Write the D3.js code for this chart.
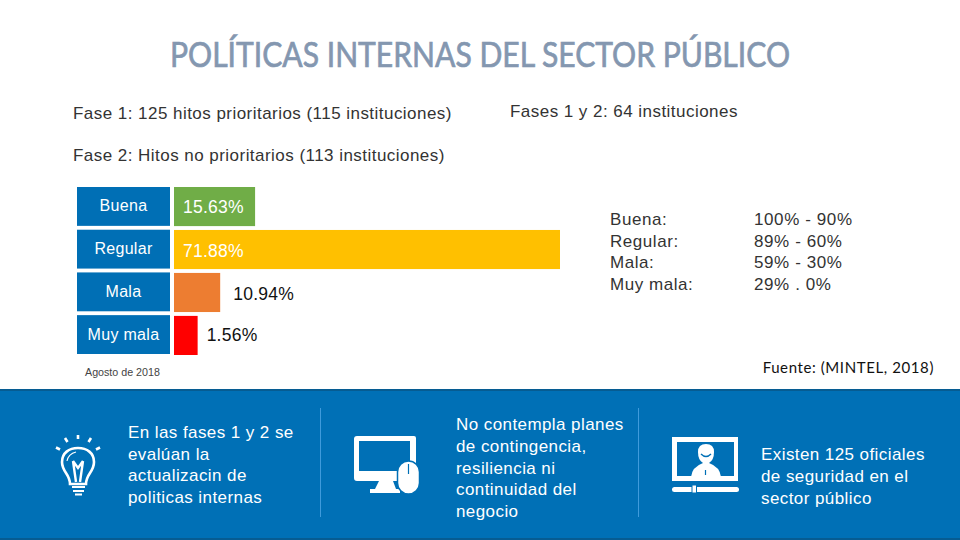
<!DOCTYPE html>
<html><head><meta charset="utf-8">
<script src="https://cdn.jsdelivr.net/npm/d3@7/dist/d3.min.js"></script>
<style>html,body{margin:0;padding:0;background:#fff}svg{display:block}text{font-family:"Liberation Sans",Arial,sans-serif}</style>
</head><body><svg id="c" width="960" height="540"></svg>
<script>
const categories = ["Buena", "Regular", "Mala", "Muy mala"];
const percentLabels = ["15.63%", "71.88%", "10.94%", "1.56%"];
// Drawn bar lengths (the source bars are not proportional to their labels)
const drawnLengths = [15.1, 71.88, 8.6, 4.4];
const barColors = ["#70ad47", "#ffc000", "#ed7d31", "#ff0000"];
const legendNames = ["Buena:", "Regular:", "Mala:", "Muy mala:"];
const legendRanges = ["100% - 90%", "89% - 60%", "59% - 30%", "29% . 0%"];
const titleText = "POLÍTICAS INTERNAS DEL SECTOR PÚBLICO";
const phaseNotes = ["Fase 1: 125 hitos prioritarios (115 instituciones)", "Fases 1 y 2: 64 instituciones", "Fase 2: Hitos no prioritarios (113 instituciones)"];
const panelLeft = ["En las fases 1 y 2 se", "evalúan la", "actualizacin de", "politicas internas"];
const panelMiddle = ["No contempla planes", "de contingencia,", "resiliencia ni", "continuidad del", "negocio"];
const panelRight = ["Existen 125 oficiales", "de seguridad en el", "sector público"];

const svg = d3.select("#c");
const x = d3.scaleLinear().domain([0, 71.88]).range([174, 560]);
const y = d3.scaleBand().domain(categories).range([187, 354]).paddingInner(0.09);
const yBar = d3.scaleBand().domain(categories).range([187, 355]).paddingInner(0.09);

svg.append("text").attr("x", 480).attr("y", 67).attr("text-anchor", "middle")
  .attr("fill", "#8497b0").attr("stroke", "#8497b0").attr("stroke-width", 0.7).attr("font-size", 34).attr("textLength", 620).attr("lengthAdjust", "spacingAndGlyphs")
  .style("font-family", "Lato").text(titleText);

const note = (t, px, py) => svg.append("text").attr("x", px).attr("y", py).attr("font-size", 17).attr("letter-spacing", 0.46).attr("fill", "#333").text(t);
note(phaseNotes[0], 73, 119); note(phaseNotes[1], 510, 117); note(phaseNotes[2], 73, 161);

svg.selectAll("rect.cat").data(categories).join("rect").attr("class", "cat")
  .attr("x", 77).attr("width", 93).attr("y", d => y(d)).attr("height", y.bandwidth()).attr("fill", "#006fb5");
svg.selectAll("text.cat").data(categories).join("text").attr("class", "cat")
  .attr("x", 123.5).attr("y", d => y(d) + y.bandwidth() / 2 + 5).attr("text-anchor", "middle")
  .attr("font-size", 16).attr("letter-spacing", 0.3).attr("fill", "#fff").text(d => d);

svg.selectAll("rect.bar").data(categories).join("rect").attr("class", "bar")
  .attr("x", x(0)).attr("y", d => yBar(d)).attr("height", yBar.bandwidth())
  .attr("width", (d, i) => x(drawnLengths[i]) - x(0)).attr("fill", (d, i) => barColors[i]);
const inside = i => i < 2;
const valueNudge = [0, 1.5, 2, 0];
svg.selectAll("text.val").data(categories).join("text").attr("class", "val")
  .attr("x", (d, i) => inside(i) ? x(0) + 9 : x(drawnLengths[i]) + (i === 3 ? 9 : 13))
  .attr("y", (d, i) => yBar(d) + yBar.bandwidth() / 2 + 6 + valueNudge[i])
  .attr("font-size", 17.5).attr("letter-spacing", 0.25).attr("fill", (d, i) => inside(i) ? "#fff" : "#111").text((d, i) => percentLabels[i]);

const block = (lines, px, py, dy, size, fill, sp) => {
  svg.append("g").selectAll("text").data(lines).join("text")
    .attr("x", px).attr("y", (d, i) => py + i * dy).attr("font-size", size).attr("letter-spacing", sp).attr("fill", fill).text(d => d);
};
block(legendNames, 610, 225, 21.7, 17, "#333", 0.55);
block(legendRanges, 754, 225, 21.7, 17, "#333", 0.6);

svg.append("text").attr("x", 85).attr("y", 376).attr("font-size", 10.7).attr("fill", "#444").text("Agosto de 2018");
svg.append("text").attr("x", 934).attr("y", 373).attr("text-anchor", "end").attr("font-size", 15).attr("letter-spacing", 0.6)
  .attr("fill", "#111").style("font-family", "Lato").text("Fuente: (MINTEL, 2018)");

svg.append("rect").attr("x", 0).attr("y", 389).attr("width", 960).attr("height", 151).attr("fill", "#0070b6");
svg.append("rect").attr("x", 0).attr("y", 389).attr("width", 960).attr("height", 2).attr("fill", "#065c92");
svg.append("rect").attr("x", 0).attr("y", 538).attr("width", 960).attr("height", 2).attr("fill", "#065c92");
[320.5, 638.5].forEach(px => svg.append("line").attr("x1", px).attr("x2", px).attr("y1", 408).attr("y2", 517).attr("stroke", "#3f9bdc").attr("stroke-width", 1));

block(panelLeft, 128, 438, 21.6, 17, "#fff", 0.42);
block(panelMiddle, 456, 430, 21.8, 17, "#fff", 0.42);
block(panelRight, 761, 460, 21.8, 17, "#fff", 0.42);

// Bulb icon
const b = svg.append("g").attr("fill", "none").attr("stroke", "#fff");
b.append("path").attr("stroke-width", 2.6).attr("d", "M70 484 C70 474 62 472 62 462 C62 453 69 448 78 448 C87 448 94 453 94 462 C94 472 86 474 86 484 Z");
b.append("path").attr("stroke-width", 1.2).attr("d", "M67 461 C68 456 72 453 76 452");
b.append("path").attr("stroke-width", 2.4).attr("d", "M73 461 L76 482 M83 461 L80 482 M73 461 L78 468 L83 461");
b.append("path").attr("stroke-width", 2.2).attr("d", "M72 487 H85 M73 491 H84 M75 494.5 H82");
b.append("path").attr("stroke-width", 2.6).attr("d", "M78 435 V439 M65 438 L67.5 442 M91 438 L88.5 442 M56 447.5 L60 449.5 M100 447.5 L96 449.5");

// Monitor and mouse icon
const m = svg.append("g");
m.append("path").attr("fill", "#fff").attr("fill-rule", "evenodd")
  .attr("d", "M357 436 H414 Q416 436 416 438 V478 Q416 481 413 481 H393 L396 489 H400 V493 H370 V489 H375 L379 481 H357 Q354 481 354 478 V439 Q354 436 357 436 Z M359 441 V471 H410 V441 Z");
m.append("rect").attr("x", 397.5).attr("y", 461).attr("width", 22).attr("height", 33).attr("rx", 11).attr("fill", "#fff").attr("stroke", "#0070b6").attr("stroke-width", 1.5);
m.append("line").attr("x1", 408.5).attr("x2", 408.5).attr("y1", 464).attr("y2", 474).attr("stroke", "#0070b6").attr("stroke-width", 1.2);

// Presenter screen icon
const p = svg.append("g");
p.append("path").attr("fill", "#fff").attr("fill-rule", "evenodd")
  .attr("d", "M672 437 H738 V481 H672 Z M677 442 V476 H734 V442 Z");
p.append("rect").attr("x", 672).attr("y", 487).attr("width", 67).attr("height", 5).attr("rx", 2.5).attr("fill", "#fff");
p.append("rect").attr("x", 692).attr("y", 485).attr("width", 4.5).attr("height", 8).attr("fill", "#fff").attr("stroke", "#0070b6").attr("stroke-width", 1);
p.append("path").attr("fill", "#fff").attr("d", "M698 452 Q698 444 706 444 Q714 444 714 452 Q714 460 709 463 H703 Q698 460 698 452 Z");
p.append("path").attr("fill", "none").attr("stroke", "#0070b6").attr("stroke-width", 1.4).attr("d", "M701 454 Q706 459 711 454");
p.append("path").attr("fill", "#fff").attr("d", "M691 477 Q692 467 703 463 H709 Q720 467 721 477 Z");
p.append("line").attr("x1", 705.5).attr("x2", 705.5).attr("y1", 470).attr("y2", 475).attr("stroke", "#0070b6").attr("stroke-width", 1.2);
</script></body></html>
